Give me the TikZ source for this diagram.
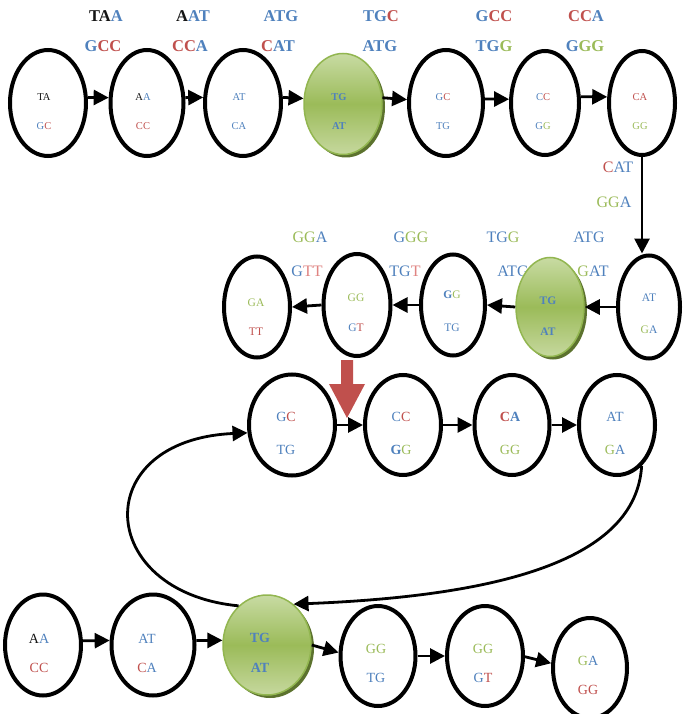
\documentclass[tikz,border=0pt]{standalone}
\usepackage{fontspec}
\setmainfont{Liberation Serif}
\usetikzlibrary{arrows.meta,shapes.geometric,shadows}
\definecolor{cB}{RGB}{79,129,189}
\definecolor{cR}{RGB}{192,80,77}
\definecolor{cRl}{RGB}{224,132,130}
\definecolor{cG}{RGB}{155,187,89}
\definecolor{cK}{RGB}{20,20,20}
\definecolor{gTop}{RGB}{200,219,163}
\definecolor{gMid}{RGB}{155,187,89}
\definecolor{gBot}{RGB}{198,216,158}
\definecolor{gEdge}{RGB}{146,182,80}
\definecolor{gShadow}{RGB}{92,114,46}
\newcommand\BL[1]{\textcolor{cB}{#1}}
\newcommand\RD[1]{\textcolor{cR}{#1}}
\newcommand\RDl[1]{\textcolor{cRl}{#1}}
\newcommand\GN[1]{\textcolor{cG}{#1}}
\newcommand\BK[1]{\textcolor{cK}{#1}}
\newcommand\rowfnt{\fontsize{10.5}{12}\selectfont}
\newcommand\enode[9]{%
  \node[#2] (#1) at (#3,#4) {};
  \node[txt] (#1-t) at (#5,#6) {\rowfnt #8};
  \node[txt] (#1-b) at (#5,#7) {\rowfnt #9};}
\tikzset{
  el/.style={ellipse, draw=black, line width=4pt, inner sep=0pt, fill=white},
  gel/.style={ellipse, draw=gEdge, line width=1.5pt, inner sep=0pt,
    top color=gTop, bottom color=gBot, middle color=gMid,
    drop shadow={shadow xshift=3pt, shadow yshift=-3pt, fill=gShadow, opacity=1}},
  con/.style={line width=2.8pt, -{Triangle[length=15pt,width=15pt]}},
  lab/.style={font=\fontsize{16.5}{18}\selectfont\bfseries, inner sep=0pt},
  labr/.style={font=\fontsize{16}{18}\selectfont, inner sep=0pt},
  txt/.style={inner sep=0pt},
}
\begin{document}
\begin{tikzpicture}[x=1pt, y=-1pt]
\useasboundingbox (0,0) rectangle (682,714);
\fill[white] (0,0) rectangle (682,714);

% ---- top labels
\node[lab] (l1a) at (106,16) {\BK{TA}\BL{A}};
\node[lab] (l1b) at (103,46) {\BL{G}\RD{CC}};
\node[lab] (l2a) at (193,16) {\BK{A}\BL{AT}};
\node[lab] (l2b) at (190,46) {\RD{CC}\BL{A}};
\node[lab] (l3a) at (281,16) {\BL{ATG}};
\node[lab] (l3b) at (278,46) {\RD{C}\BL{AT}};
\node[lab] (l4a) at (381,16) {\BL{TG}\RD{C}};
\node[lab] (l4b) at (380,46) {\BL{ATG}};
\node[lab] (l5a) at (494,16) {\BL{G}\RD{CC}};
\node[lab] (l5b) at (494,46) {\BL{TG}\GN{G}};
\node[lab] (l6a) at (586,16) {\RD{CC}\BL{A}};
\node[lab] (l6b) at (585,46) {\BL{G}\GN{GG}};

% ---- vertical labels
\node[labr] (v1) at (618,167) {\RD{C}\BL{AT}};
\node[labr] (v2) at (614,202) {\GN{GG}\BL{A}};

% ---- row 2 labels
\node[labr] (m1a) at (310,237) {\GN{GG}\BL{A}};
\node[labr] (m2a) at (411,237) {\BL{G}\GN{GG}};
\node[labr] (m3a) at (503,237) {\BL{TG}\GN{G}};
\node[labr] (m4a) at (589,237) {\BL{ATG}};
\node[labr] (m1b) at (307,271) {\BL{G}\RDl{TT}};
\node[labr] (m2b) at (405,271) {\BL{TG}\RDl{T}};
\node[labr] (m3b) at (513,271) {\BL{ATG}};

% ---- row 1
\renewcommand\rowfnt{\fontsize{10.5}{12}\selectfont}
\enode{a1}{el, minimum width=76pt, minimum height=106pt}{48}{103}{44}{97}{126}{\BK{TA}}{\BL{G}\RD{C}}
\enode{a2}{el, minimum width=73pt, minimum height=106pt}{147}{103}{143}{97}{126}{\BK{A}\BL{A}}{\RD{CC}}
\enode{a3}{el, minimum width=76pt, minimum height=106pt}{243}{103}{239}{97}{126}{\BL{AT}}{\BL{CA}}
\enode{a4}{gel, minimum width=78pt, minimum height=101pt}{343}{104}{339}{97}{126}{\textbf{\BL{TG}}}{\textbf{\BL{AT}}}
\enode{a5}{el, minimum width=74pt, minimum height=106pt}{446}{103}{443}{97}{126}{\BL{G}\RD{C}}{\BL{TG}}
\enode{a6}{el, minimum width=68pt, minimum height=104pt}{545}{103}{543}{97}{126}{\BL{C}\RD{C}}{\BL{G}\GN{G}}
\enode{a7}{el, minimum width=66pt, minimum height=104pt}{642}{103}{640}{97}{126}{\RD{CA}}{\GN{GG}}

% ---- row 2
\renewcommand\rowfnt{\fontsize{11.5}{13}\selectfont}
\enode{r5}{el, minimum width=62pt, minimum height=103pt}{649}{307}{649}{298}{330}{\BL{AT}}{\GN{G}\BL{A}}
\enode{r4}{gel, minimum width=68pt, minimum height=99pt}{550}{307}{548}{301}{332}{\textbf{\BL{TG}}}{\textbf{\BL{AT}}}
\enode{r3}{el, minimum width=64pt, minimum height=101pt}{453}{305}{452}{295}{328}{\textbf{\BL{G}}\GN{G}}{\BL{TG}}
\enode{r2}{el, minimum width=67pt, minimum height=102pt}{357}{305}{356}{298}{328}{\GN{GG}}{\BL{G}\RD{T}}
\enode{r1}{el, minimum width=66pt, minimum height=101pt}{257}{307}{256}{303}{332}{\GN{GA}}{\RD{TT}}
\node[labr] (m4b) at (593,271) {\GN{G}\BL{AT}};

% ---- row 3
\renewcommand\rowfnt{\fontsize{14}{16}\selectfont}
\enode{c1}{el, minimum width=86pt, minimum height=101pt}{292}{425}{286}{417}{450}{\BL{G}\RD{C}}{\BL{TG}}
\enode{c2}{el, minimum width=76pt, minimum height=100pt}{403}{425}{401}{417}{450}{\BL{C}\RD{C}}{\textbf{\BL{G}}\GN{G}}
\enode{c3}{el, minimum width=75pt, minimum height=100pt}{512}{425}{510}{417}{450}{\textbf{\RD{C}\BL{A}}}{\GN{GG}}
\enode{c4}{el, minimum width=76pt, minimum height=100pt}{617}{425}{615}{417}{450}{\BL{AT}}{\GN{G}\BL{A}}

% ---- bottom row
\enode{b1}{el, minimum width=76pt, minimum height=101pt}{43}{645}{39}{639}{668}{\BK{A}\BL{A}}{\RD{CC}}
\enode{b2}{el, minimum width=83pt, minimum height=101pt}{153}{645}{147}{639}{668}{\BL{AT}}{\RD{C}\BL{A}}
\enode{b3}{gel, minimum width=88pt, minimum height=100pt}{267}{645}{260}{638}{668}{\textbf{\BL{TG}}}{\textbf{\BL{AT}}}
\enode{b4}{el, minimum width=75pt, minimum height=100pt}{378}{656}{376}{649}{678}{\GN{GG}}{\BL{TG}}
\enode{b5}{el, minimum width=76pt, minimum height=100pt}{485}{656}{483}{649}{678}{\GN{GG}}{\BL{G}\RD{T}}
\enode{b6}{el, minimum width=74pt, minimum height=100pt}{590}{668}{588}{661}{690}{\GN{G}\BL{A}}{\RD{GG}}

% ---- connectors row 1
\draw[con] (a1.8) -- (a2.172);
\draw[con] (a2.8) -- (a3.172);
\draw[con] (a3.8) -- (a4.172);
\draw[con] (a4.9) -- (a5.175);
\draw[con] (a5.6) -- (a6.174);
\draw[con] (a6.10) -- (a7.170);
\draw[con] (a7.south) -- (a7.south |- r5.north);

% ---- connectors row 2
\draw[con] (r5.west) -- (r4.east);
\draw[con] (r4.west) -- (r3.east);
\draw[con] (r3.west) -- (r2.east);
\draw[con] (r2.west) -- (r1.east);

% ---- connectors row 3
\draw[con] (c1.east) -- (c2.west);
\draw[con] (c2.east) -- (c3.west);
\draw[con] (c3.east) -- (c4.west);

% ---- bottom connectors
\draw[con] (b1.6) -- (b2.174);
\draw[con] (b2.6) -- (b3.174);
\draw[con] (b3.east) -- (b4.175);
\draw[con] (b4.east) -- (b5.west);
\draw[con] (b5.-1) -- (b6.173);

% ---- loop curves
\draw[con] (c4.-59) .. controls (636,560) and (500,596) .. (b3.57);
\draw[con] (b3.126) .. controls (95,592) and (88,440) .. (c1.190);

% ---- red block arrow
\fill[cR] (341,360) -- (353,360) -- (353,384) -- (365,384) -- (347,418) -- (329,384) -- (341,384) -- cycle;
\end{tikzpicture}
\end{document}
